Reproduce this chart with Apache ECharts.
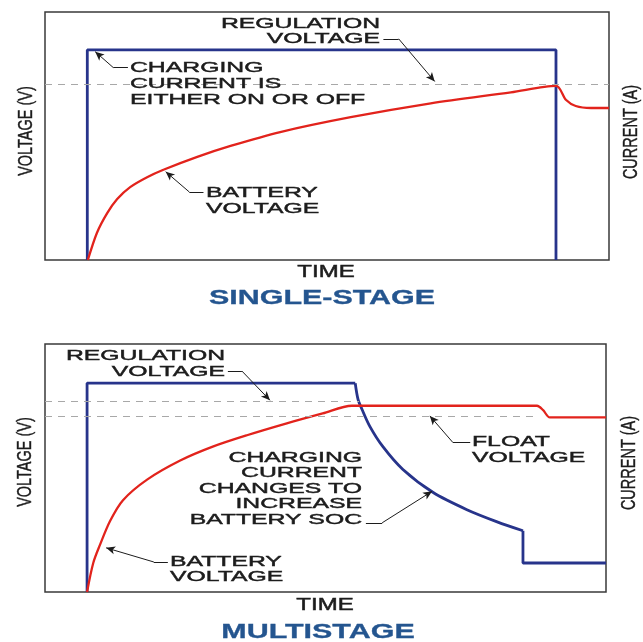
<!DOCTYPE html>
<html>
<head>
<meta charset="utf-8">
<script src="https://cdn.jsdelivr.net/npm/echarts@6/dist/echarts.min.js"></script>
<style>
  html, body { margin: 0; background: #fff; }
  #chart { width: 643px; height: 642px; }
</style>
</head>
<body>
<div id="chart"></div>
<script>
// time and level are in relative units (0-100)

// single-stage
const singleCurrent = [[7.5, 0], [7.5, 84.7], [90.6, 84.7], [90.6, 0]]
const singleVoltage = [
  [7.6, 0], [9.2, 10.9], [11.0, 18.8], [12.8, 24.6], [15.1, 29.4], [18.1, 33.4],
  [21.0, 36.4], [27.0, 41.6], [32.9, 46.0], [41.7, 51.6], [54.2, 57.6], [68.4, 63.2],
  [82.6, 67.6], [90.6, 70.2], [92.4, 64.5], [94.1, 62.1], [96.8, 61.3], [100, 61.3]
]
const singleRegulation = 71.0

// multistage
const multiCurrentBulk = [[7.5, 0], [7.5, 84.2], [55.3, 84.2]]
const multiCurrentTaper = [
  [55.3, 84.2], [55.8, 77.7], [56.5, 73.7], [57.9, 66.8], [60.2, 58.7], [63.8, 49.4],
  [69.2, 40.1], [75.2, 33.2], [80.6, 28.3], [85.2, 24.7]
]
const multiCurrentFloat = [[85.2, 24.7], [85.2, 11.7], [100, 11.7]]
const multiVoltage = [
  [7.5, 0], [8.6, 11.7], [9.8, 19.0], [11.6, 28.6], [13.9, 37.0], [18.2, 45.3],
  [24.1, 53.0], [29.9, 58.6], [36.0, 63.2], [43.1, 68.0], [49.5, 72.0], [54.7, 75.1], [87.7, 75.1],
  [88.8, 73.3], [90.0, 70.4], [100, 70.4]
]
const multiRegulation = 76.9
const multiFloat = 71.0

const BLUE = '#27348b'
const RED = '#e2231c'
const INK = '#1c1c1c'
const FONT = '"Liberation Sans", Arial, sans-serif'

// leader lines: [start, bend, tip]
const singleLeaders = [
  [[14.7, 77.6], [12.1, 77.6], [8.9, 84]],     // charging current
  [[60.0, 89.2], [62.7, 89.2], [69.1, 72]],    // regulation voltage
  [[28.1, 27.4], [25.6, 27.4], [21.4, 35.6]]   // battery voltage
]
const multiLeaders = [
  [[32.6, 89.1], [35.1, 89.1], [40.1, 77.3]],  // regulation voltage
  [[75.8, 60.3], [72.7, 60.3], [68.6, 71.0]],  // float voltage
  [[57.2, 27.9], [60.1, 27.9], [69.0, 40.6]],  // charging current changes
  [[21.9, 12.1], [19.4, 12.1], [10.9, 17.8]]   // battery voltage
]

function ticks(leaders) {
  return leaders.map(l => [{ coord: l[0] }, { coord: l[1] }])
}
function arrows(leaders) {
  return leaders.map(l => [{ coord: l[1] }, { coord: l[2] }])
}
function dashed(y, x0, x1) {
  return [{ coord: [x0, y], lineStyle: { type: [7, 6], color: '#a8a8a8', width: 1 } }, { coord: [x1, y] }]
}

function text(x, y, str, opt) {
  opt = opt || {}
  return {
    type: 'text', x: x, y: y, z: 100,
    rotation: opt.rotation || 0,
    scaleX: opt.scaleX || 1.65,
    scaleY: opt.scaleY || 1,
    style: {
      text: str,
      fill: opt.color || INK,
      stroke: opt.color || INK,
      lineWidth: opt.stroke == null ? 0.45 : opt.stroke,
      fontFamily: FONT,
      fontSize: opt.size || 15,
      fontWeight: opt.weight || 'normal',
      align: opt.align || 'left',
      verticalAlign: opt.vAlign || 'top',
      lineHeight: opt.lh || 16
    }
  }
}

function axisLabel(x, y, str) {
  return text(x, y, str, { rotation: Math.PI / 2, scaleX: 1, scaleY: 1.4, size: 14.5, align: 'center', vAlign: 'middle', stroke: 0.3 })
}

const hidden = { show: false, type: 'value', min: 0, max: 100 }

const option = {
  animation: false,
  backgroundColor: '#fff',
  grid: [
    { left: 45, top: 12, width: 564, height: 248, show: true, borderColor: '#3a3a3a', borderWidth: 1.5 },
    { left: 45, top: 344, width: 561, height: 248, show: true, borderColor: '#3a3a3a', borderWidth: 1.5 }
  ],
  xAxis: [
    Object.assign({ gridIndex: 0 }, hidden),
    Object.assign({ gridIndex: 1 }, hidden)
  ],
  yAxis: [
    Object.assign({ gridIndex: 0 }, hidden),  // voltage
    Object.assign({ gridIndex: 0 }, hidden),  // current
    Object.assign({ gridIndex: 1 }, hidden),
    Object.assign({ gridIndex: 1 }, hidden)
  ],
  series: [
    {
      name: 'Charging current', type: 'line', xAxisIndex: 0, yAxisIndex: 1,
      data: singleCurrent, showSymbol: false, z: 3,
      lineStyle: { color: BLUE, width: 2.8 },
      markLine: {
        silent: true, symbol: ['none', 'arrow'], symbolSize: [6, 9],
        label: { show: false },
        lineStyle: { color: INK, width: 1, type: 'solid' },
        data: arrows(singleLeaders)
      }
    },
    {
      name: 'Battery voltage', type: 'line', xAxisIndex: 0, yAxisIndex: 0,
      data: singleVoltage, showSymbol: false, smooth: 0.3, z: 4,
      lineStyle: { color: RED, width: 2.3 },
      markLine: {
        silent: true, symbol: 'none', label: { show: false },
        lineStyle: { color: INK, width: 1, type: 'solid' },
        data: [dashed(singleRegulation, 0, 100)].concat(ticks(singleLeaders))
      }
    },
    {
      name: 'Charging current', type: 'line', xAxisIndex: 1, yAxisIndex: 3,
      data: multiCurrentBulk, showSymbol: false, z: 3,
      lineStyle: { color: BLUE, width: 2.8 },
      markLine: {
        silent: true, symbol: ['none', 'arrow'], symbolSize: [6, 9],
        label: { show: false },
        lineStyle: { color: INK, width: 1, type: 'solid' },
        data: arrows(multiLeaders)
      }
    },
    {
      name: 'Charging current', type: 'line', xAxisIndex: 1, yAxisIndex: 3,
      data: multiCurrentTaper, showSymbol: false, smooth: 0.3, z: 3,
      lineStyle: { color: BLUE, width: 2.8 }
    },
    {
      name: 'Charging current', type: 'line', xAxisIndex: 1, yAxisIndex: 3,
      data: multiCurrentFloat, showSymbol: false, z: 3,
      lineStyle: { color: BLUE, width: 2.8 }
    },
    {
      name: 'Battery voltage', type: 'line', xAxisIndex: 1, yAxisIndex: 2,
      data: multiVoltage, showSymbol: false, smooth: 0.3, z: 4,
      lineStyle: { color: RED, width: 2.3 },
      markLine: {
        silent: true, symbol: 'none', label: { show: false },
        lineStyle: { color: INK, width: 1, type: 'solid' },
        data: [dashed(multiRegulation, 0, 56), dashed(multiFloat, 0, 87.7)].concat(ticks(multiLeaders))
      }
    }
  ],
  graphic: [
    // single-stage
    text(380, 16, 'REGULATION\nVOLTAGE', { align: 'right', lh: 15.5 }),
    text(130, 60, 'CHARGING\nCURRENT IS\nEITHER ON OR OFF'),
    text(206, 185, 'BATTERY\nVOLTAGE'),
    text(326, 273, 'TIME', { align: 'center', vAlign: 'middle', size: 16, scaleX: 1.5 }),
    text(322, 298, 'SINGLE-STAGE', { align: 'center', vAlign: 'middle', size: 21, weight: 'bold', scaleX: 1.45, color: '#24558f', stroke: 0.3 }),
    axisLabel(26, 131, 'VOLTAGE (V)'),
    axisLabel(631, 132, 'CURRENT (A)'),
    // multistage
    text(225, 348, 'REGULATION\nVOLTAGE', { align: 'right' }),
    text(362, 450, 'CHARGING\nCURRENT\nCHANGES TO\nINCREASE\nBATTERY SOC', { align: 'right', lh: 15.5 }),
    text(472, 434, 'FLOAT\nVOLTAGE'),
    text(170, 554, 'BATTERY\nVOLTAGE', { lh: 15.5 }),
    text(325, 606, 'TIME', { align: 'center', vAlign: 'middle', size: 16, scaleX: 1.5 }),
    text(318, 632, 'MULTISTAGE', { align: 'center', vAlign: 'middle', size: 21, weight: 'bold', scaleX: 1.45, color: '#24558f', stroke: 0.3 }),
    axisLabel(25, 462, 'VOLTAGE (V)'),
    axisLabel(629, 463, 'CURRENT (A)')
  ]
}

const chart = echarts.init(document.getElementById('chart'))
chart.setOption(option)
</script>
</body>
</html>
